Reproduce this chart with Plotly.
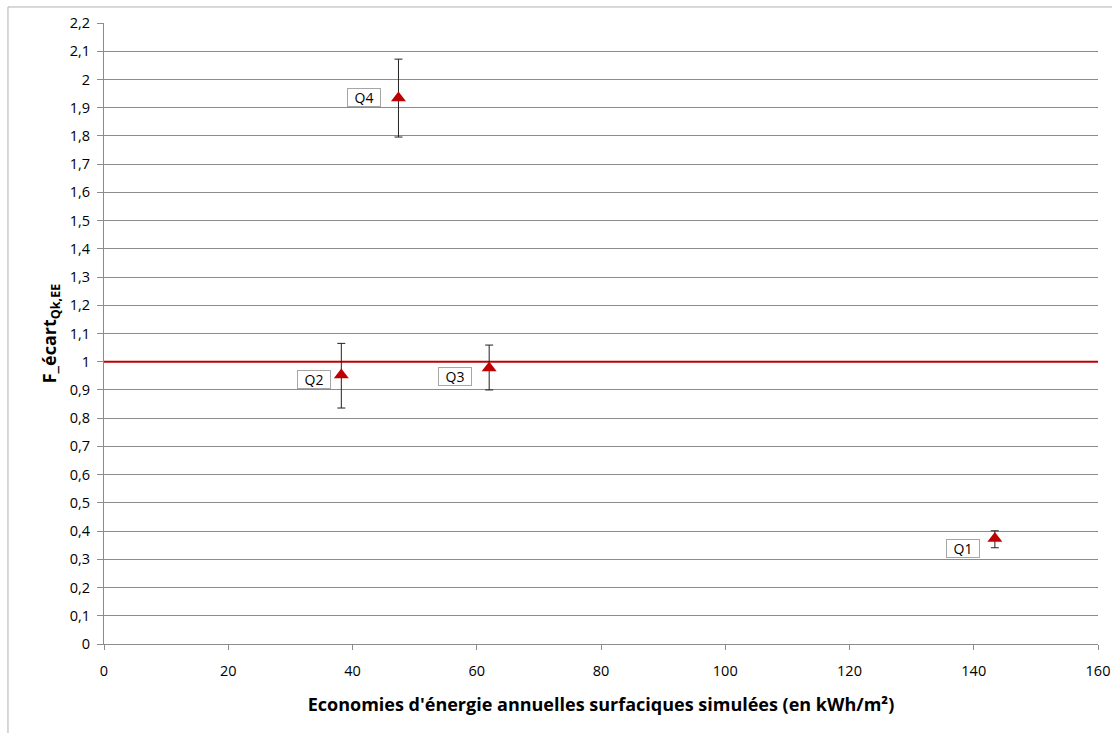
import plotly.graph_objects as go

# Values
labels = ["Q1", "Q2", "Q3", "Q4"]
economies = [143.4, 38.2, 62.0, 47.4]
f_ecart = [0.374, 0.953, 0.978, 1.934]
err_plus = [0.027, 0.112, 0.081, 0.138]
err_minus = [0.033, 0.117, 0.078, 0.138]
reference_level = 1.0

FONT = "Open Sans"
RED = "#C00000"
GRID = "#8c8c8c"

fig = go.Figure()

# horizontal reference line at F = 1
fig.add_trace(go.Scatter(
    x=[0, 160], y=[reference_level, reference_level],
    mode="lines", line=dict(color=RED, width=2),
    hoverinfo="skip", showlegend=False,
))

fig.add_trace(go.Scatter(
    x=economies, y=f_ecart, mode="markers",
    marker=dict(symbol="triangle-up", color=RED, size=13),
    error_y=dict(type="data", symmetric=False, array=err_plus, arrayminus=err_minus,
                 color="#222222", thickness=1, width=4),
    showlegend=False,
))

# label boxes, shifted left of each point (pixel offsets)
label_shift = {"Q1": (-15, -10), "Q2": (-10, -5), "Q3": (-17, -9), "Q4": (-17, 1)}
for name, x, y in zip(labels, economies, f_ecart):
    dx, dy = label_shift[name]
    fig.add_annotation(
        x=x, y=y, text=name, showarrow=False, xanchor="right", yanchor="middle",
        xshift=dx, yshift=dy, bgcolor="white", bordercolor="#a6a6a6", borderwidth=1,
        borderpad=1, width=30, height=15, align="center",
        font=dict(family=FONT, size=14, color="black"),
    )

# outer chart frame
fig.add_shape(type="rect", xref="paper", yref="paper", x0=-0.0966, x1=1.05,
              y0=-0.25, y1=1.0258, line=dict(color="#b0b0b0", width=1), layer="below")

fig.update_layout(
    width=1112, height=733,
    margin=dict(l=104, r=14, t=23, b=89),
    paper_bgcolor="white", plot_bgcolor="white",
    separators=", ",
    font=dict(family=FONT, size=14.5, color="black"),
    xaxis=dict(
        range=[0, 160], tick0=0, dtick=20, showgrid=False, zeroline=False,
        showline=True, linecolor=GRID, linewidth=1, ticks="outside", ticklen=5,
        tickcolor=GRID, ticklabelstandoff=9, automargin=False,
        title=dict(text="<b>Economies d'énergie annuelles surfaciques simulées (en kWh/m²)</b>",
                   font=dict(family=FONT, size=18), standoff=18),
    ),
    yaxis=dict(
        range=[0, 2.2], tick0=0, dtick=0.1, showgrid=True, gridcolor=GRID, gridwidth=1,
        zeroline=False, showline=True, linecolor=GRID, linewidth=1, ticks="outside",
        ticklen=6, tickcolor=GRID, ticklabelstandoff=4, automargin=False,
        title=dict(text="<b>F_écart<sub>Qk,EE</sub></b>", font=dict(family=FONT, size=18),
                   standoff=8),
    ),
)

fig.write_html("out.html", config={"displayModeBar": False},
               post_script="document.body.style.margin='0';")
